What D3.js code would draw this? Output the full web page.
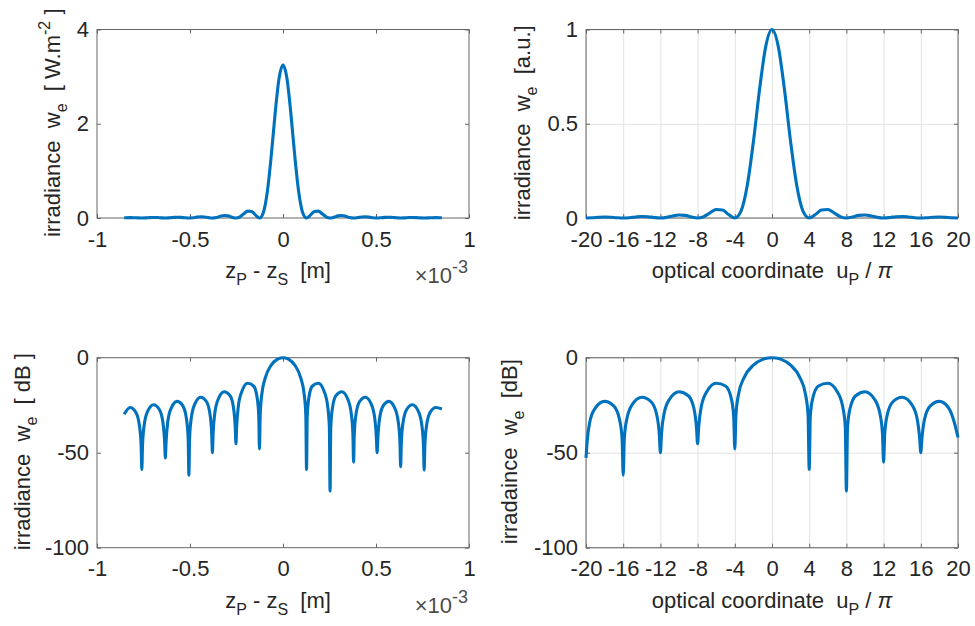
<!DOCTYPE html>
<html>
<head>
<meta charset="utf-8">
<script src="https://cdn.jsdelivr.net/npm/d3@7/dist/d3.min.js"></script>
<style>
  html, body { margin: 0; padding: 0; background: #ffffff; }
  svg { display: block; }
  text { white-space: pre; }
</style>
</head>
<body>
<svg id="chart" width="975" height="626"></svg>
<script>
// ---------------- DATA ----------------
// Top-left: irradiance [W.m^-2] vs zP - zS (in units of 1e-3 m)
const zTL = [-0.8539, -0.8433, -0.8223, -0.8012, -0.7801, -0.7590, -0.7379, -0.7168, -0.6958, -0.6747, -0.6536,
  -0.6325, -0.6114, -0.5903, -0.5693, -0.5482, -0.5271, -0.5060, -0.4849, -0.4638, -0.4428, -0.4217, -0.4006,
  -0.3795, -0.3584, -0.3373, -0.3163, -0.2952, -0.2741, -0.2530, -0.2319, -0.2108, -0.1898, -0.1687, -0.1476,
  -0.1265, -0.1054, -0.0843, -0.0633, -0.0422, -0.0211, 0,
  0.0211, 0.0422, 0.0633, 0.0843, 0.1054, 0.1265, 0.1476, 0.1687, 0.1898, 0.2108, 0.2319, 0.2530, 0.2741,
  0.2952, 0.3163, 0.3373, 0.3584, 0.3795, 0.4006, 0.4217, 0.4428, 0.4638, 0.4849, 0.5060, 0.5271, 0.5482,
  0.5693, 0.5903, 0.6114, 0.6325, 0.6536, 0.6747, 0.6958, 0.7168, 0.7379, 0.7590, 0.7801, 0.8012, 0.8223,
  0.8433, 0.8539];
const wTL = [0.004, 0.006, 0.008, 0.006, 0.002, 0, 0.002, 0.008, 0.011, 0.009, 0.003,
  0, 0.004, 0.011, 0.016, 0.013, 0.005, 0, 0.006, 0.018, 0.027, 0.022, 0.008,
  0, 0.010, 0.035, 0.053, 0.045, 0.018, 0, 0.025, 0.089, 0.146, 0.139, 0.060,
  0, 0.119, 0.556, 1.317, 2.223, 2.964, 3.25,
  2.964, 2.223, 1.317, 0.556, 0.119, 0, 0.060, 0.139, 0.146, 0.089, 0.025, 0, 0.018,
  0.045, 0.053, 0.035, 0.010, 0, 0.008, 0.022, 0.027, 0.018, 0.006, 0, 0.005, 0.013,
  0.016, 0.011, 0.004, 0, 0.003, 0.009, 0.011, 0.008, 0.002, 0, 0.002, 0.006, 0.008,
  0.006, 0.004];

// Top-right: normalised irradiance [a.u.] vs optical coordinate uP/pi
const vTR = [-20, -19.333, -18.667, -18, -17.333, -16.667, -16, -15.333, -14.667, -14, -13.333, -12.667,
  -12, -11.333, -10.667, -10, -9.333, -8.667, -8, -7.333, -6.667, -6, -5.333, -4.667, -4, -3.333, -2.667,
  -2, -1.333, -0.667, 0, 0.667, 1.333, 2, 2.667, 3.333, 4, 4.667, 5.333, 6, 6.667, 7.333, 8, 8.667, 9.333,
  10, 10.667, 11.333, 12, 12.667, 13.333, 14, 14.667, 15.333, 16, 16.667, 17.333, 18, 18.667, 19.333, 20];
const wTR = [0, 0.0011, 0.0035, 0.0050, 0.0040, 0.0015, 0, 0.0017, 0.0057, 0.0083, 0.0068, 0.0025,
  0, 0.0032, 0.0107, 0.0162, 0.0140, 0.0054, 0, 0.0075, 0.0274, 0.0450, 0.0428, 0.0186, 0, 0.0365, 0.171,
  0.405, 0.684, 0.912, 1, 0.912, 0.684, 0.405, 0.171, 0.0365, 0, 0.0186, 0.0428, 0.0450, 0.0274, 0.0075,
  0, 0.0054, 0.0140, 0.0162, 0.0107, 0.0032, 0, 0.0025, 0.0068, 0.0083, 0.0057, 0.0017, 0, 0.0015, 0.0040,
  0.0050, 0.0035, 0.0011, 0];

// Bottom-left: irradiance [dB] vs zP - zS (1e-3 m)
const zBL = [-0.8539, -0.8223, -0.7906, -0.7717, -0.7628, -0.7590, -0.7552, -0.7464, -0.7274, -0.6958,
  -0.6641, -0.6452, -0.6363, -0.6325, -0.6287, -0.6199, -0.6009, -0.5693, -0.5376, -0.5187, -0.5098,
  -0.5060, -0.5022, -0.4934, -0.4744, -0.4428, -0.4111, -0.3922, -0.3833, -0.3795, -0.3757, -0.3669,
  -0.3479, -0.3163, -0.2846, -0.2657, -0.2568, -0.2530, -0.2492, -0.2404, -0.2214, -0.1898, -0.1581,
  -0.1392, -0.1303, -0.1265, -0.1227, -0.1139, -0.0949, -0.0633, -0.0316, -0.0127, 0,
  0.0127, 0.0316, 0.0633, 0.0949, 0.1139, 0.1227, 0.1265, 0.1303, 0.1392, 0.1581, 0.1898, 0.2214,
  0.2404, 0.2492, 0.2530, 0.2568, 0.2657, 0.2846, 0.3163, 0.3479, 0.3669, 0.3757, 0.3795, 0.3833,
  0.3922, 0.4111, 0.4428, 0.4744, 0.4934, 0.5022, 0.5060, 0.5098, 0.5187, 0.5376, 0.5693, 0.6009,
  0.6199, 0.6287, 0.6325, 0.6363, 0.6452, 0.6641, 0.6958, 0.7274, 0.7464, 0.7552, 0.7590, 0.7628,
  0.7717, 0.7906, 0.8223, 0.8539];
const dBL = [-29.8, -26.20, -28.87, -35.85, -46.08, -58.8, -45.99, -35.56, -28.15, -24.75,
  -27.36, -34.29, -44.50, -52.7, -44.40, -33.95, -26.49, -23.01, -25.52, -32.40, -42.58,
  -61.8, -42.45, -31.96, -24.43, -20.82, -23.19, -29.97, -40.10, -50.0, -39.93, -29.39,
  -21.74, -17.90, -20.00, -26.59, -36.62, -45.3, -36.36, -25.72, -17.81, -13.47, -14.89,
  -20.97, -30.73, -48.0, -30.21, -19.23, -10.45, -3.92, -0.91, -0.14, 0,
  -0.14, -0.91, -3.92, -10.45, -19.23, -30.21, -58.8, -30.73, -20.97, -14.89, -13.47, -17.81,
  -25.72, -36.36, -70.2, -36.62, -26.59, -20.00, -17.90, -21.74, -29.39, -39.93, -55.0, -40.10,
  -29.97, -23.19, -20.82, -24.43, -31.96, -42.45, -50.0, -42.58, -32.40, -25.52, -23.01, -26.49,
  -33.95, -44.40, -57.4, -44.50, -34.29, -27.36, -24.75, -28.15, -35.56, -45.99, -59.2, -46.08,
  -35.85, -28.87, -26.20, -27.0];

// Bottom-right: irradiance [dB] vs optical coordinate uP/pi
const vBR = [-20, -19.88, -19.6, -19, -18, -17, -16.4, -16.12, -16, -15.88, -15.6, -15, -14, -13, -12.4,
  -12.12, -12, -11.88, -11.6, -11, -10, -9, -8.4, -8.12, -8, -7.88, -7.6, -7, -6, -5, -4.4, -4.12, -4,
  -3.88, -3.6, -3, -2, -1, -0.4, 0, 0.4, 1, 2, 3, 3.6, 3.88, 4, 4.12, 4.4, 5, 6, 7, 7.6, 7.88, 8, 8.12,
  8.4, 9, 10, 11, 11.6, 11.88, 12, 12.12, 12.4, 13, 14, 15, 15.6, 15.88, 16, 16.12, 16.4, 17, 18, 19,
  19.6, 20];
const dBR = [-52.7, -44.40, -33.95, -26.49, -23.01, -25.52, -32.40, -42.58, -61.8, -42.45, -31.96, -24.43,
  -20.82, -23.19, -29.97, -40.10, -50.0, -39.93, -29.39, -21.74, -17.90, -20.00, -26.59, -36.62, -45.3,
  -36.36, -25.72, -17.81, -13.47, -14.89, -20.97, -30.73, -48.0, -30.21, -19.23, -10.45, -3.92, -0.91,
  -0.14, 0, -0.14, -0.91, -3.92, -10.45, -19.23, -30.21, -58.8, -30.73, -20.97, -14.89, -13.47, -17.81,
  -25.72, -36.36, -70.2, -36.62, -26.59, -20.00, -17.90, -21.74, -29.39, -39.93, -55.0, -40.10, -29.97,
  -23.19, -20.82, -24.43, -31.96, -42.45, -50.0, -42.58, -32.40, -25.52, -23.01, -26.49, -33.95, -42.0];

// Tick values and labels
const zTicks = [-1, -0.5, 0, 0.5, 1];
const zTickLabels = ["-1", "-0.5", "0", "0.5", "1"];
const vTicks = [-20, -16, -12, -8, -4, 0, 4, 8, 12, 16, 20];
const vTickLabels = ["-20", "-16", "-12", "-8", "-4", "0", "4", "8", "12", "16", "20"];
const linTicksTL = [0, 2, 4];
const linTickLabelsTL = ["0", "2", "4"];
const linTicksTR = [0, 0.5, 1];
const linTickLabelsTR = ["0", "0.5", "1"];
const dBTicks = [-100, -50, 0];
const dBTickLabels = ["-100", "-50", "0"];

// ---------------- DRAWING ----------------
const FONT = '"Liberation Sans", Arial, Helvetica, sans-serif';
const TXT = "#262626";
const AXC = "#666666";
const GRIDC = "#e3e3e3";
const LINEC = "#0072BD";
const TICKFS = 22, LABFS = 22, SUBFS = 16;

const svg = d3.select("#chart");
svg.append("rect").attr("width", 975).attr("height", 626).attr("fill", "#fff");

function richText(sel, segs, size, subSize) {
  let shift = 0;
  segs.forEach(s => {
    const ts = sel.append("tspan").text(s.t);
    let target = 0;
    if (s.sub) target = 7;
    if (s.sup) target = -10;
    const dy = target - shift;
    if (dy !== 0) ts.attr("dy", dy);
    shift = target;
    if (s.italic) ts.attr("font-style", "italic");
    ts.attr("font-size", (s.sub || s.sup) ? (subSize || SUBFS) : size);
  });
}

function panel(o) {
  const g = svg.append("g");
  const x = d3.scaleLinear().domain(o.xDomain).range([o.x0, o.x1]);
  const y = d3.scaleLinear().domain(o.yDomain).range([o.y1, o.y0]);
  const H = o.y1 - o.y0, W = o.x1 - o.x0;

  if (o.grid) {
    const gx = g.append("g").attr("transform", `translate(0,${o.y1})`)
      .call(d3.axisBottom(x).tickValues(o.xTicks).tickSize(-H).tickFormat(""));
    const gy = g.append("g").attr("transform", `translate(${o.x0},0)`)
      .call(d3.axisLeft(y).tickValues(o.yTicks).tickSize(-W).tickFormat(""));
    [gx, gy].forEach(a => {
      a.select(".domain").remove();
      a.selectAll("line").attr("stroke", GRIDC).attr("stroke-width", 1);
    });
  }

  // box
  g.append("rect").attr("x", x(o.xDomain[0])).attr("y", y(o.yDomain[1]))
    .attr("width", W).attr("height", H)
    .attr("fill", "none").attr("stroke", AXC).attr("stroke-width", 1);

  const styleAxis = a => {
    a.select(".domain").remove();
    a.selectAll("line").attr("stroke", AXC).attr("stroke-width", 1);
    a.selectAll("text").attr("fill", TXT).attr("font-family", FONT).attr("font-size", TICKFS);
    a.attr("font-family", FONT).attr("font-size", TICKFS);
  };
  const xb = g.append("g").attr("transform", `translate(0,${o.y1})`)
    .call(d3.axisBottom(x).tickValues(o.xTicks).tickSizeInner(-4).tickSizeOuter(0)
      .tickPadding(13).tickFormat((d, i) => o.xTickLabels[i]));
  const xt = g.append("g").attr("transform", `translate(0,${o.y0})`)
    .call(d3.axisTop(x).tickValues(o.xTicks).tickSizeInner(-4).tickSizeOuter(0).tickFormat(""));
  const yl = g.append("g").attr("transform", `translate(${o.x0},0)`)
    .call(d3.axisLeft(y).tickValues(o.yTicks).tickSizeInner(-4).tickSizeOuter(0)
      .tickPadding(8).tickFormat((d, i) => o.yTickLabels[i]));
  const yr = g.append("g").attr("transform", `translate(${o.x1},0)`)
    .call(d3.axisRight(y).tickValues(o.yTicks).tickSizeInner(-4).tickSizeOuter(0).tickFormat(""));
  [xb, xt, yl, yr].forEach(styleAxis);

  // data line
  const pts = d3.zip(o.xs, o.ys);
  g.append("path").datum(pts)
    .attr("fill", "none").attr("stroke", LINEC).attr("stroke-width", 3.1)
    .attr("stroke-linejoin", "round").attr("stroke-linecap", "butt")
    .attr("d", d3.line().x(d => x(d[0])).y(d => y(d[1])).curve(d3.curveMonotoneX));

  // x label
  const xlab = g.append("text").attr("x", o.xlabelX).attr("y", o.y1 + 60)
    .attr("text-anchor", "middle").attr("fill", TXT).attr("font-family", FONT)
    .attr("font-size", LABFS).attr("xml:space", "preserve");
  richText(xlab, o.xlabel, LABFS);

  // y label
  const ylab = g.append("text")
    .attr("transform", `translate(${o.ylabelX},${(o.y0 + o.y1) / 2 - 1}) rotate(-90)`)
    .attr("text-anchor", "middle").attr("fill", TXT).attr("font-family", FONT)
    .attr("font-size", LABFS).attr("xml:space", "preserve");
  richText(ylab, o.ylabel, LABFS);

  if (o.exp) {
    const ex = g.append("text").attr("x", o.x1 - 1).attr("y", o.y1 + 65)
      .attr("text-anchor", "end").attr("fill", "#4d4d4d").attr("font-family", FONT)
      .attr("font-size", 22);
    richText(ex, [{t: "\u00D710"}, {t: "-3", sup: true}], 22, 18);
  }
}

const zLabel = [{t: "z"}, {t: "P", sub: true}, {t: " - z"}, {t: "S", sub: true}, {t: "  [m]"}];
const vLabel = [{t: "optical coordinate  u"}, {t: "P", sub: true}, {t: " / "}, {t: "\u03C0", italic: true}];

panel({
  x0: 97, x1: 469, y0: 29.5, y1: 218,
  xDomain: [-1, 1], yDomain: [0, 4],
  xTicks: zTicks, xTickLabels: zTickLabels, yTicks: linTicksTL, yTickLabels: linTickLabelsTL,
  grid: false, xs: zTL, ys: wTL,
  xlabel: zLabel, xlabelX: 278,
  ylabel: [{t: "irradiance  w"}, {t: "e", sub: true}, {t: "  [ W.m"}, {t: "-2", sup: true}, {t: " ]"}],
  ylabelX: 60, exp: true
});
panel({
  x0: 586, x1: 958, y0: 29.5, y1: 218,
  xDomain: [-20, 20], yDomain: [0, 1],
  xTicks: vTicks, xTickLabels: vTickLabels, yTicks: linTicksTR, yTickLabels: linTickLabelsTR,
  grid: true, xs: vTR, ys: wTR,
  xlabel: vLabel, xlabelX: 772,
  ylabel: [{t: "irradiance  w"}, {t: "e", sub: true}, {t: "  [a.u.]"}],
  ylabelX: 530, exp: false
});
panel({
  x0: 97, x1: 469, y0: 357.7, y1: 547.7,
  xDomain: [-1, 1], yDomain: [-100, 0],
  xTicks: zTicks, xTickLabels: zTickLabels, yTicks: dBTicks, yTickLabels: dBTickLabels,
  grid: false, xs: zBL, ys: dBL,
  xlabel: zLabel, xlabelX: 278,
  ylabel: [{t: "irradiance  w"}, {t: "e", sub: true}, {t: "  [ dB ]"}],
  ylabelX: 29.5, exp: true
});
panel({
  x0: 586, x1: 958, y0: 357.7, y1: 547.7,
  xDomain: [-20, 20], yDomain: [-100, 0],
  xTicks: vTicks, xTickLabels: vTickLabels, yTicks: dBTicks, yTickLabels: dBTickLabels,
  grid: true, xs: vBR, ys: dBR,
  xlabel: vLabel, xlabelX: 772,
  ylabel: [{t: "irradaince  w"}, {t: "e", sub: true}, {t: "  [dB]"}],
  ylabelX: 517, exp: false
});
</script>
</body>
</html>
